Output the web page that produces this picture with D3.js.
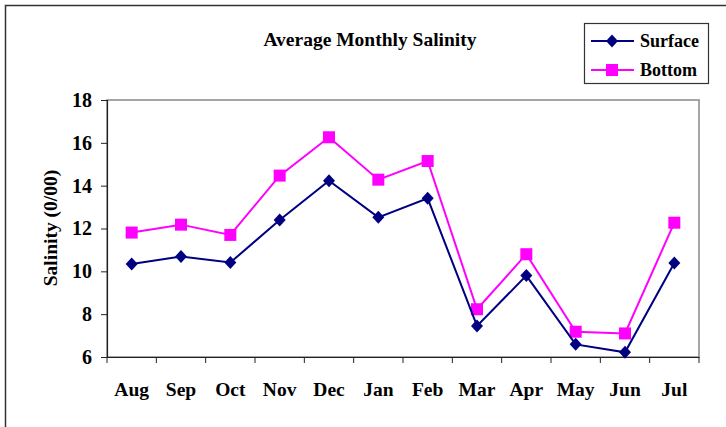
<!DOCTYPE html>
<html>
<head>
<meta charset="utf-8">
<script src="https://cdn.jsdelivr.net/npm/d3@7"></script>
<style>
  html, body { margin: 0; padding: 0; background: #fff; }
  svg { display: block; }
  text { font-family: "Liberation Serif", "Times New Roman", serif; font-weight: bold; fill: #000; }
</style>
</head>
<body>
<svg id="chart" width="726" height="427"></svg>
<script>
// Average monthly salinity, surface vs bottom
const months = ["Aug","Sep","Oct","Nov","Dec","Jan","Feb","Mar","Apr","May","Jun","Jul"];
const surface = [10.34, 10.69, 10.41, 12.40, 14.23, 12.52, 13.41, 7.45, 9.80, 6.59, 6.22, 10.39];
const bottom  = [11.81, 12.18, 11.70, 14.47, 16.26, 14.28, 15.15, 8.23, 10.80, 7.18, 7.10, 12.27];
const yTicks = [6, 8, 10, 12, 14, 16, 18];

const svg = d3.select("#chart");

// outer chart frame
svg.append("rect")
  .attr("x", 5.5).attr("y", 5.5)
  .attr("width", 760).attr("height", 460)
  .attr("fill", "none").attr("stroke", "#333").attr("stroke-width", 1.5);

const plot = { left: 107, top: 100, right: 699, bottom: 357 };

const x = d3.scaleBand().domain(months).range([plot.left, plot.right]).padding(0);
const y = d3.scaleLinear().domain([6, 18]).range([plot.bottom, plot.top]);

// plot area border (gray top/right)
svg.append("rect")
  .attr("x", plot.left).attr("y", plot.top)
  .attr("width", plot.right - plot.left).attr("height", plot.bottom - plot.top)
  .attr("fill", "none").attr("stroke", "#888").attr("stroke-width", 1.5);

// y axis
const yAxis = svg.append("g")
  .attr("transform", `translate(${plot.left},0)`)
  .call(d3.axisLeft(y).tickValues(yTicks).tickSize(6).tickPadding(9).tickFormat(d3.format("d")));
yAxis.select(".domain").attr("stroke", "#222").attr("stroke-width", 1.2);
yAxis.selectAll(".tick line").attr("stroke", "#222");
yAxis.selectAll(".tick text")
  .style("font-family", "'Liberation Serif', serif").style("font-weight", "bold")
  .style("font-size", "20px").attr("fill", "#000");

// x axis
const xAxis = svg.append("g")
  .attr("transform", `translate(0,${plot.bottom})`)
  .call(d3.axisBottom(x).tickSize(0).tickPadding(25));
xAxis.select(".domain").attr("stroke", "#222").attr("stroke-width", 1.2);
xAxis.selectAll(".tick text")
  .style("font-family", "'Liberation Serif', serif").style("font-weight", "bold")
  .style("font-size", "19.5px").attr("fill", "#000");

// x tick marks at category boundaries
const bounds = months.map(m => x(m)).concat([x.range()[1]]);
svg.append("g").selectAll("line").data(bounds).join("line")
  .attr("x1", d => d).attr("x2", d => d)
  .attr("y1", plot.bottom).attr("y2", plot.bottom + 6)
  .attr("stroke", "#222").attr("stroke-width", 1);

const cx = m => x(m) + x.bandwidth() / 2;

const line = d3.line()
  .x((d, i) => cx(months[i]))
  .y(d => y(d));

const diamond = "M0,-6.5L6,0L0,6.5L-6,0Z";
const sq = 12;

// bottom series
svg.append("path").datum(bottom)
  .attr("d", line).attr("fill", "none")
  .attr("stroke", "#ff00ff").attr("stroke-width", 2);
svg.append("g").selectAll("rect").data(bottom).join("rect")
  .attr("x", (d, i) => cx(months[i]) - sq / 2)
  .attr("y", d => y(d) - sq / 2)
  .attr("width", sq).attr("height", sq)
  .attr("fill", "#ff00ff");

// surface series
svg.append("path").datum(surface)
  .attr("d", line).attr("fill", "none")
  .attr("stroke", "#000080").attr("stroke-width", 2);
svg.append("g").selectAll("path").data(surface).join("path")
  .attr("d", diamond)
  .attr("transform", (d, i) => `translate(${cx(months[i])},${y(d)})`)
  .attr("fill", "#000080");

// title
svg.append("text")
  .attr("x", 370).attr("y", 46)
  .attr("text-anchor", "middle")
  .style("font-size", "19.5px")
  .text("Average Monthly Salinity");

// y axis label
svg.append("text")
  .attr("transform", `translate(57,228) rotate(-90)`)
  .attr("text-anchor", "middle")
  .style("font-size", "19.5px")
  .text("Salinity (0/00)");

// legend
const legend = svg.append("g");
legend.append("rect")
  .attr("x", 584.5).attr("y", 23.5).attr("width", 124).attr("height", 60)
  .attr("fill", "#fff").attr("stroke", "#333").attr("stroke-width", 1.2);

const items = [
  { name: "Surface", color: "#000080", shape: "diamond", yy: 41 },
  { name: "Bottom", color: "#ff00ff", shape: "square", yy: 70 }
];
items.forEach(it => {
  legend.append("line")
    .attr("x1", 591).attr("x2", 634).attr("y1", it.yy).attr("y2", it.yy)
    .attr("stroke", it.color).attr("stroke-width", 2);
  if (it.shape === "diamond") {
    legend.append("path").attr("d", diamond)
      .attr("transform", `translate(612,${it.yy})`).attr("fill", it.color);
  } else {
    legend.append("rect").attr("x", 612 - sq / 2).attr("y", it.yy - sq / 2)
      .attr("width", sq).attr("height", sq).attr("fill", it.color);
  }
  legend.append("text")
    .attr("x", 640).attr("y", it.yy + 6)
    .style("font-size", "18px")
    .text(it.name);
});
</script>
</body>
</html>
